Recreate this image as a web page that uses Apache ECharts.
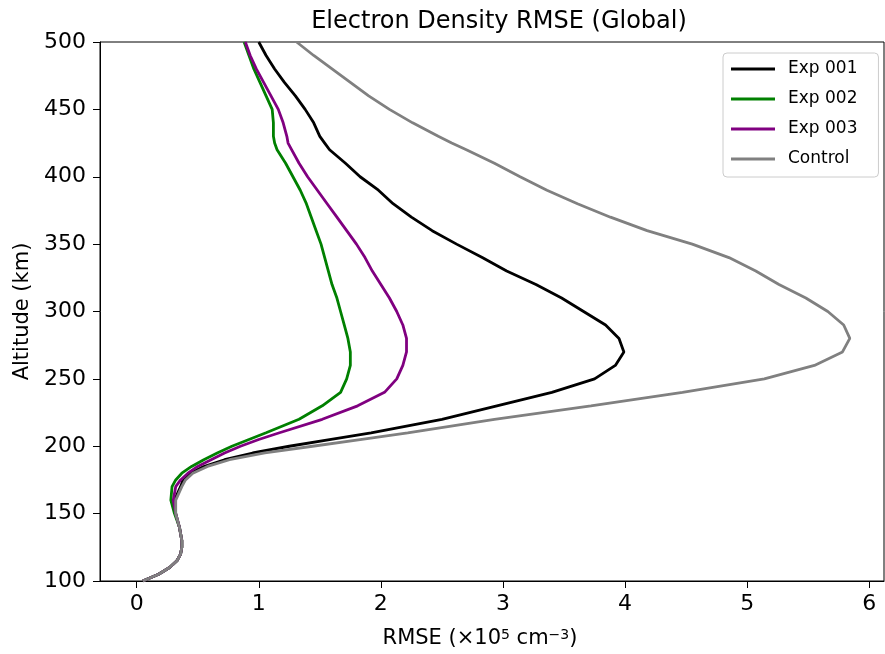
<!DOCTYPE html>
<html>
<head>
<meta charset="utf-8">
<script src="https://cdn.jsdelivr.net/npm/echarts@6/dist/echarts.min.js"></script>
<style>html,body{margin:0;padding:0;background:#fff}#c{width:885px;height:654px}</style>
</head>
<body>
<div id="c"></div>
<script>
const altitudes = [100,105,110,115,120,125,130,140,150,160,170,175,180,185,190,195,200,205,210,220,230,240,250,260,270,280,290,300,310,320,330,340,350,360,370,380,390,400,410,420,425,430,440,450,460,470,480,490,500];
const exp001 = [0.05,0.18,0.27,0.33,0.36,0.37,0.37,0.35,0.32,0.31,
  0.36,0.38,0.44,0.55,0.72,0.95,1.25,1.58,1.92,
  2.50,2.95,3.40,3.75,3.92,3.99,3.95,3.84,3.66,3.48,3.27,3.03,2.83,2.62,2.42,2.25,2.10,1.98,1.83,1.71,1.58,
  1.54,
  1.50,1.45,1.38,1.30,1.21,1.13,1.06,1.00];
const exp002 = [0.05,0.18,0.27,0.33,0.36,0.37,0.37,0.35,0.31,0.28,
  0.29,0.32,0.37,0.45,0.55,0.66,0.78,0.92,1.06,
  1.33,1.52,1.67,1.72,1.75,1.75,1.73,1.70,1.67,1.64,1.60,1.57,1.54,1.51,1.47,1.43,1.39,1.34,1.28,1.22,1.15,
  1.13,
  1.12,1.12,1.11,1.06,1.01,0.96,0.92,0.88];
const exp003 = [0.05,0.18,0.27,0.33,0.36,0.37,0.37,0.35,0.32,0.30,
  0.32,0.36,0.42,0.50,0.61,0.72,0.85,1.00,1.17,
  1.52,1.81,2.03,2.13,2.18,2.21,2.21,2.18,2.13,2.07,2.00,1.93,1.87,1.80,1.72,1.64,1.56,1.48,1.40,1.33,1.27,
  1.24,
  1.23,1.20,1.16,1.10,1.04,0.98,0.93,0.89];
const control = [0.05,0.18,0.27,0.33,0.36,0.37,0.37,0.35,0.32,0.32,
  0.37,0.40,0.46,0.58,0.76,1.05,1.44,1.83,2.22,
  2.93,3.72,4.47,5.14,5.55,5.78,5.84,5.79,5.66,5.48,5.26,5.07,4.85,4.55,4.18,3.88,3.61,3.36,3.14,2.93,2.70,
  2.58,
  2.47,2.26,2.07,1.90,1.75,1.60,1.45,1.31];
const seriesNames = ['Exp 001','Exp 002','Exp 003','Control'];
const seriesColors = ['#000000','#008000','#800080','#808080'];
const xTicks = [0,1,2,3,4,5,6];

const allValues = [exp001, exp002, exp003, control];
const font = 'DejaVu Sans';
const chart = echarts.init(document.getElementById('c'), null, {renderer:'canvas'});
chart.setOption({
  animation: false,
  backgroundColor: '#ffffff',
  title: {
    text: 'Electron Density RMSE (Global)',
    left: 494, top: 5, textAlign: 'center',
    textStyle: {fontFamily: font, fontSize: 24, fontWeight: 'normal', color: '#000'}
  },
  legend: {
    orient: 'vertical',
    left: 723, top: 53,
    padding: [6, 21, 8, 8],
    backgroundColor: 'rgba(255,255,255,0.85)',
    borderColor: '#cccccc', borderWidth: 1, borderRadius: 4,
    itemWidth: 44, itemHeight: 3, itemGap: 10,
    icon: 'rect',
    textStyle: {fontFamily: font, fontSize: 17, color: '#000', lineHeight: 20, padding:[0,0,0,8]},
    data: seriesNames
  },
  grid: {left: 100, right: 1, top: 42, bottom: 73, show: true, borderColor: '#000', borderWidth: 1, backgroundColor: 'transparent'},
  xAxis: {
    type: 'value', min: -0.3, max: 6.12,
    name: '{a|RMSE (×10}{s|5}{a| cm}{s|−3}{a|)}',
    nameLocation: 'middle', nameGap: 47,
    nameTextStyle: {
      fontFamily: font, color: '#000', padding: [0, 24, 0, 0],
      rich: {a: {fontFamily: font, fontSize: 21, color: '#000'}, s: {fontFamily: font, fontSize: 14, color: '#000', verticalAlign: 'top'}}
    },
    axisLine: {show: true, onZero: false, lineStyle: {color: '#000', width: 1}},
    axisTick: {show: true, length: 7, lineStyle: {color: '#000'}, customValues: xTicks},
    axisLabel: {fontFamily: font, fontSize: 22, color: '#000', margin: 12, customValues: xTicks},
    splitLine: {show: false}
  },
  yAxis: {
    type: 'value', min: 100, max: 500, interval: 50,
    name: 'Altitude (km)', nameLocation: 'middle', nameGap: 67,
    nameTextStyle: {fontFamily: font, fontSize: 21, color: '#000'},
    axisLine: {show: true, onZero: false, lineStyle: {color: '#000', width: 1}},
    axisTick: {show: true, length: 7, lineStyle: {color: '#000'}},
    axisLabel: {fontFamily: font, fontSize: 22, color: '#000', margin: 14},
    splitLine: {show: false}
  },
  series: seriesNames.map((n, i) => ({
    name: n, type: 'line', symbol: 'none', smooth: false,
    lineStyle: {color: seriesColors[i], width: 2.8},
    itemStyle: {color: seriesColors[i]},
    data: allValues[i].map((v, k) => [v, altitudes[k]])
  }))
});
</script>
</body>
</html>
